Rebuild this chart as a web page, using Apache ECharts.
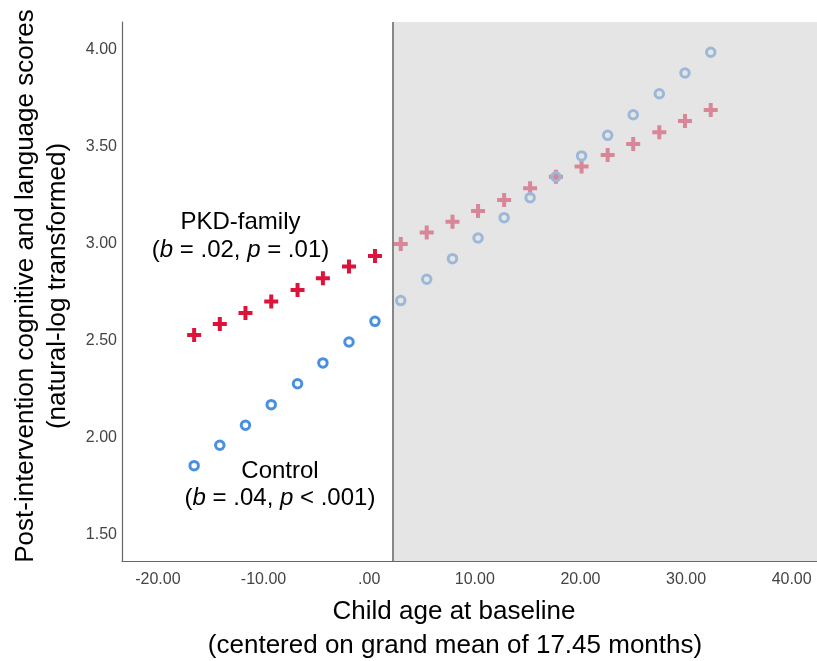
<!DOCTYPE html>
<html>
<head>
<meta charset="utf-8">
<script src="https://cdn.jsdelivr.net/npm/echarts@6/dist/echarts.min.js"></script>
<style>
html,body{margin:0;padding:0;background:#fff;}
#chart{width:817px;height:661px;}
</style>
</head>
<body>
<div id="chart"></div>
<script>
// Child age at baseline (centered)
const ages = [-16.57, -14.14, -11.71, -9.27, -6.78, -4.38, -1.91, 0.55, 2.99, 5.45, 7.89, 10.31, 12.78, 15.24, 17.68, 20.11, 22.58, 25.0, 27.47, 29.9, 32.34];
// PKD-family predicted scores (crosses)
const pkdScores = [2.530, 2.587, 2.643, 2.702, 2.762, 2.822, 2.882, 2.937, 2.998, 3.057, 3.113, 3.168, 3.225, 3.285, 3.345, 3.397, 3.457, 3.513, 3.574, 3.632, 3.688];
// Control predicted scores (circles)
const controlScores = [1.857, 1.962, 2.065, 2.171, 2.279, 2.386, 2.494, 2.600, 2.707, 2.817, 2.923, 3.029, 3.134, 3.237, 3.345, 3.452, 3.558, 3.664, 3.772, 3.879, 3.986];
// Shaded region starts here (x value)
const shadeStart = 2.2;
// Tick labels
const xTicks = [-20, -10, 0, 10, 20, 30, 40];
const yTicks = [1.5, 2.0, 2.5, 3.0, 3.5, 4.0];

const FONT = 'Liberation Sans, Arial, sans-serif';
const chart = echarts.init(document.getElementById('chart'));

const pkdData = ages.map((a, i) => [a, pkdScores[i]]);
const ctlData = ages.map((a, i) => [a, controlScores[i]]);

function fmt(v) {
  if (Math.abs(v) < 1e-9) return '.00';
  return v.toFixed(2);
}

chart.setOption({
  animation: false,
  backgroundColor: '#ffffff',
  grid: {left: 122, right: 0, top: 22, bottom: 100},
  xAxis: {
    type: 'value',
    min: -23.4, max: 42.4,
    axisLine: {show: true, onZero: false, lineStyle: {color: '#666', width: 1.2}},
    axisTick: {show: false},
    splitLine: {show: false},
    axisLabel: {
      customValues: xTicks,
      formatter: fmt,
      color: '#444', fontSize: 16, fontFamily: FONT, margin: 11
    }
  },
  yAxis: {
    type: 'value',
    min: 1.366, max: 4.1416,
    axisLine: {show: true, onZero: false, lineStyle: {color: '#666', width: 1.2}},
    axisTick: {show: false},
    splitLine: {show: false},
    axisLabel: {
      customValues: yTicks,
      formatter: fmt,
      color: '#444', fontSize: 16, fontFamily: FONT, margin: 5
    }
  },
  series: [
    {
      name: 'PKD-family',
      type: 'scatter',
      data: pkdData,
      symbol: 'path://M5,0H9V5H14V9H9V14H5V9H0V5H5Z',
      symbolSize: 14,
      itemStyle: {color: '#dc143c', opacity: 1},
      z: 2
    },
    {
      name: 'Control',
      type: 'scatter',
      data: ctlData,
      symbol: 'circle',
      symbolSize: 8.5,
      itemStyle: {color: 'rgba(255,255,255,0)', borderColor: '#4a90e2', borderWidth: 3, opacity: 1},
      z: 2,
      markArea: {
        silent: true,
        z: 10,
        itemStyle: {color: 'rgba(212,212,212,0.6)'},
        data: [[{xAxis: shadeStart}, {xAxis: 42.4}]]
      },
      markLine: {
        silent: true,
        z: 11,
        symbol: 'none',
        label: {show: false},
        lineStyle: {color: '#666', width: 1.5, type: 'solid'},
        data: [{xAxis: shadeStart}]
      }
    }
  ],
  graphic: [
    {type: 'text', x: 240.5, y: 222, style: {text: 'PKD-family', align: 'center', verticalAlign: 'middle', font: '24px ' + FONT, fill: '#000'}},
    {type: 'text', x: 240.5, y: 250, style: {text: '({i|b} = .02, {i|p} = .01)', align: 'center', verticalAlign: 'middle', font: '24px ' + FONT, fill: '#000', rich: {i: {fontStyle: 'italic', fontSize: 24, fontFamily: FONT}}}},
    {type: 'text', x: 280, y: 471, style: {text: 'Control', align: 'center', verticalAlign: 'middle', font: '24px ' + FONT, fill: '#000'}},
    {type: 'text', x: 280, y: 498, style: {text: '({i|b} = .04, {i|p} < .001)', align: 'center', verticalAlign: 'middle', font: '24px ' + FONT, fill: '#000', rich: {i: {fontStyle: 'italic', fontSize: 24, fontFamily: FONT}}}},
    {type: 'text', x: 454, y: 612, style: {text: 'Child age at baseline', align: 'center', verticalAlign: 'middle', font: '26px ' + FONT, fill: '#000'}},
    {type: 'text', x: 455, y: 646, style: {text: '(centered on grand mean of 17.45 months)', align: 'center', verticalAlign: 'middle', font: '26px ' + FONT, fill: '#000'}},
    {type: 'text', x: 26, y: 286, rotation: Math.PI / 2, style: {text: 'Post-intervention cognitive and language scores', align: 'center', verticalAlign: 'middle', font: '26px ' + FONT, fill: '#000'}},
    {type: 'text', x: 58, y: 286, rotation: Math.PI / 2, style: {text: '(natural-log transformed)', align: 'center', verticalAlign: 'middle', font: '26px ' + FONT, fill: '#000'}}
  ]
});
</script>
</body>
</html>
